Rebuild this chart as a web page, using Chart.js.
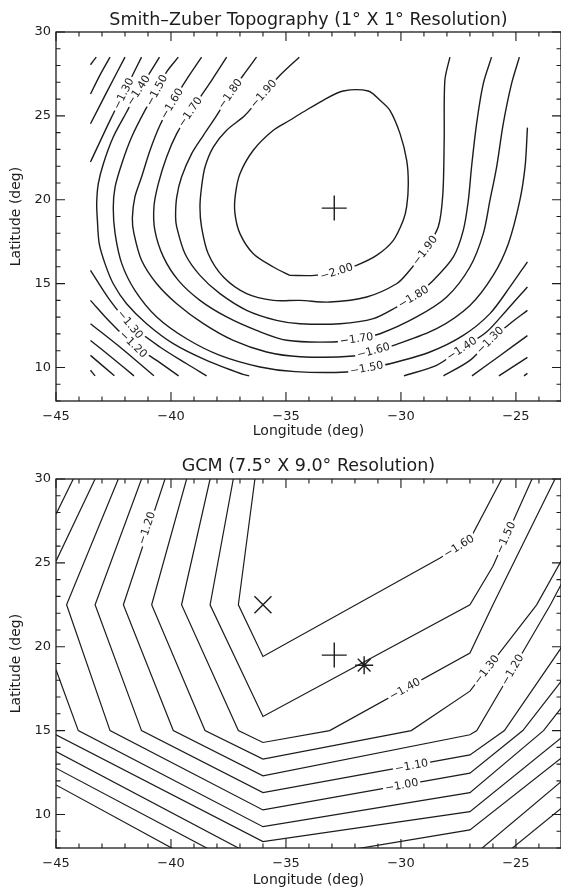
<!DOCTYPE html>
<html>
<head>
<meta charset="utf-8">
<script src="https://cdn.jsdelivr.net/npm/chart.js@4.4.1/dist/chart.umd.min.js"></script>
<style>
  html, body { margin: 0; padding: 0; background: #fff; }
  canvas { display: block; }
</style>
</head>
<body>
<canvas id="szChart" width="561" height="446"></canvas>
<canvas id="gcmChart" width="561" height="446"></canvas>
<script>
// axis ticks shared by both panels
const lonTicks = [-45, -40, -35, -30, -25];
const latTicks = [10, 15, 20, 25, 30];

// Smith-Zuber 1x1 deg topography, contour pieces: [level (km), [[lon, lat], ...]]
const szContours = [
  [-1.00, [[-43.5, 28.05], [-43.25, 28.5]]],
  [-1.10, [[-43.5, 26.3], [-43.1, 27.4], [-42.65, 28.5]]],
  [-1.20, [[-43.5, 24.53], [-42.8, 26.4], [-42.0, 28.5]]],
  [-1.30, [[-43.5, 22.25], [-42.65, 24.73], [-41.71, 27.32], [-41.28, 28.5]]],
  [-1.40, [[-40.5, 28.5], [-40.99, 27.42], [-41.42, 26.52], [-41.93, 25.23], [-42.51, 23.74], [-42.94, 22.15],
           [-43.16, 20.96], [-43.23, 19.8], [-43.2, 18.77], [-43.12, 17.38], [-42.87, 16.19], [-42.51, 14.99],
           [-41.93, 13.8], [-41.06, 12.61], [-39.9, 11.42], [-38.45, 10.42], [-36.9, 9.6], [-36.6, 9.5]]],
  [-1.50, [[-39.68, 28.5], [-40.19, 27.62], [-40.62, 26.52], [-41.13, 25.33], [-41.71, 23.74], [-42.14, 22.15],
           [-42.43, 20.76], [-42.51, 19.5], [-42.43, 17.98], [-42.14, 16.19], [-41.57, 14.6], [-40.62, 13.01],
           [-39.32, 11.71], [-37.87, 10.72], [-36.13, 10.03], [-34.6, 9.75], [-32.36, 9.73], [-31.49, 9.96],
           [-30.48, 10.22], [-28.74, 10.92], [-27.29, 11.91], [-26.13, 13.21], [-25.26, 14.8], [-24.5, 16.3]]],
  [-1.60, [[-38.67, 28.5], [-39.25, 27.32], [-39.97, 25.73], [-40.48, 24.44], [-40.91, 22.95], [-41.28, 21.35],
           [-41.57, 20.16], [-41.68, 18.9], [-41.61, 17.98], [-41.28, 16.39], [-40.62, 14.99], [-39.75, 13.8],
           [-38.59, 12.61], [-37.29, 11.61], [-35.84, 10.92], [-34.39, 10.64], [-32.07, 10.68], [-31.2, 11.0],
           [-30.19, 11.38], [-28.45, 12.31], [-27.0, 13.7], [-25.99, 15.49], [-25.33, 17.38], [-24.83, 19.96],
           [-24.6, 22.0], [-24.5, 24.3]]],
  [-1.70, [[-37.58, 28.5], [-38.23, 27.12], [-39.17, 25.23], [-39.75, 23.94], [-40.19, 22.55], [-40.55, 20.96],
           [-40.74, 19.6], [-40.7, 18.17], [-40.33, 16.59], [-39.68, 15.19], [-38.74, 14.0], [-37.58, 13.01],
           [-36.28, 12.21], [-34.97, 11.62], [-32.94, 11.52], [-31.93, 11.71], [-30.91, 12.01], [-29.32, 13.01],
           [-28.01, 14.2], [-27.0, 15.99], [-26.42, 17.98], [-26.13, 19.96], [-25.84, 21.95], [-25.55, 24.54],
           [-25.19, 26.92], [-24.85, 28.5]]],
  [-1.80, [[-36.28, 28.5], [-36.86, 27.42], [-37.43, 26.32], [-38.01, 25.03], [-38.59, 23.84], [-39.1, 22.75],
           [-39.54, 21.35], [-39.75, 20.16], [-39.8, 19.0], [-39.75, 18.37], [-39.39, 16.78], [-38.74, 15.49],
           [-37.87, 14.4], [-36.71, 13.41], [-35.41, 12.81], [-34.39, 12.61], [-32.65, 12.61], [-31.2, 12.91],
           [-30.19, 13.6], [-29.46, 14.2], [-28.6, 15.19], [-27.72, 16.59], [-27.29, 18.17], [-27.07, 19.96],
           [-26.93, 21.95], [-26.71, 24.54], [-26.42, 26.92], [-26.06, 28.5]]],
  [-1.90, [[-34.42, 28.5], [-35.26, 27.42], [-35.98, 26.32], [-36.78, 25.03], [-37.58, 24.14], [-38.16, 23.14],
           [-38.52, 21.95], [-38.67, 20.76], [-38.74, 19.57], [-38.67, 18.37], [-38.38, 16.78], [-37.72, 15.39],
           [-36.71, 14.4], [-35.55, 14.0], [-34.39, 14.0], [-33.09, 13.9], [-31.49, 14.2], [-30.19, 14.99],
           [-29.68, 15.69], [-28.96, 16.98], [-28.38, 18.37], [-28.18, 20.3], [-28.12, 23.54],
           [-28.09, 27.12], [-27.87, 28.5]]],
  [-2.00, [[-34.83, 15.49], [-35.55, 15.99], [-36.42, 16.78], [-37.0, 17.98], [-37.22, 19.2], [-37.2, 20.3],
           [-37.0, 21.55], [-36.42, 22.95], [-35.55, 24.14], [-34.83, 24.74], [-34.25, 25.23], [-33.38, 25.93],
           [-32.51, 26.48], [-31.42, 26.48], [-30.91, 25.93], [-30.48, 25.33], [-30.04, 23.94], [-29.75, 22.35],
           [-29.68, 20.96], [-29.75, 19.6], [-29.9, 18.77], [-30.33, 17.58], [-31.06, 16.68], [-31.93, 16.09],
           [-32.8, 15.72], [-33.74, 15.49], [-34.83, 15.49]]],
  // lower-left corner
  [-1.30, [[-43.5, 15.79], [-42.65, 14.0], [-41.78, 12.57], [-40.48, 11.22], [-39.32, 10.22], [-38.45, 9.5]]],
  [-1.20, [[-43.5, 14.0], [-42.65, 12.71], [-41.64, 11.38], [-40.62, 10.42], [-39.67, 9.5]]],
  [-1.10, [[-43.5, 12.61], [-42.22, 11.22], [-40.74, 9.5]]],
  [-1.00, [[-43.5, 11.61], [-42.51, 10.52], [-41.61, 9.5]]],
  [-0.90, [[-43.5, 10.72], [-42.46, 9.5]]],
  [-0.80, [[-43.5, 9.83], [-43.3, 9.5]]],
  // lower-right corner
  [-1.40, [[-29.87, 9.5], [-28.45, 10.13], [-27.36, 11.12], [-26.28, 12.11], [-25.41, 13.4], [-24.5, 14.8]]],
  [-1.30, [[-28.15, 9.5], [-27.0, 10.42], [-26.13, 11.62], [-25.26, 12.61], [-24.5, 13.4]]],
  [-1.20, [[-26.91, 9.5], [-25.7, 10.7], [-24.5, 11.9]]],
  [-1.10, [[-25.74, 9.5], [-24.5, 10.6]]],
  [-1.00, [[-24.65, 9.5], [-24.5, 9.65]]]
];
// in-line labels: [level, lon, lat]
const szLabels = [
  [-1.30, -42.07, 26.32], [-1.40, -41.42, 26.52], [-1.50, -40.62, 26.52], [-1.60, -39.97, 25.73],
  [-1.70, -39.17, 25.23], [-1.80, -37.43, 26.32], [-1.90, -35.98, 26.32],
  [-1.30, -41.78, 12.57], [-1.20, -41.64, 11.38],
  [-2.00, -32.8, 15.72], [-1.90, -28.96, 16.98], [-1.80, -29.46, 14.2], [-1.70, -31.93, 11.71],
  [-1.60, -31.2, 11.0], [-1.50, -31.49, 9.96], [-1.40, -27.36, 11.12], [-1.30, -26.13, 11.62]
];
// symbols: [point style, lon, lat]
const szMarks = [['cross', -32.9, 19.5]];

// GCM 7.5 x 9.0 deg grid, contour pieces
const gcmContours = [
  [-0.80, [[-44.25, 30], [-45, 27.9]]],
  [-0.90, [[-43.3, 30], [-45, 25.1]]],
  [-0.90, [[-45, 18.63], [-44.03, 15.0], [-36, 9.27], [-27, 11.3], [-23.8, 15.0], [-23, 16.4]]],
  [-1.00, [[-42.29, 30], [-44.54, 22.5], [-42.65, 15.0], [-36, 10.27], [-27, 12.46], [-24.7, 15.0], [-23, 18.0]]],
  [-1.10, [[-41.28, 30], [-43.3, 22.5], [-41.28, 15.0], [-36, 11.3], [-27, 13.55], [-25.5, 15.0], [-23, 20.0]]],
  [-1.20, [[-40.26, 30], [-42.07, 22.5], [-39.9, 15.0], [-36, 12.3], [-27, 14.75], [-26.7, 15.0], [-25.15, 18.63],
           [-23.5, 22.5], [-23, 23.8]]],
  [-1.30, [[-39.32, 30], [-40.84, 22.5], [-38.52, 15.0], [-36, 13.3], [-29.55, 15.0], [-27, 17.35], [-24.1, 22.5],
           [-23, 25.2]]],
  [-1.40, [[-38.3, 30], [-39.54, 22.5], [-37.07, 15.0], [-36, 14.29], [-33.1, 15.0], [-27, 19.62], [-26, 22.5],
           [-23.3, 30]]],
  [-1.50, [[-37.29, 30], [-38.3, 22.5], [-36, 15.84], [-27, 22.5], [-26.0, 24.8], [-24.3, 30]]],
  [-1.60, [[-36.35, 30], [-37.07, 22.5], [-36, 19.42], [-28.3, 25.29], [-27, 26.4], [-25.62, 30]]],
  [-0.80, [[-45, 14.75], [-36, 8.38], [-27, 10.17], [-23, 14.6]]],
  [-0.70, [[-45, 13.75], [-36.38, 7.5]]],
  [-0.70, [[-33.9, 7.5], [-27, 9.08], [-23, 13.4]]],
  [-0.60, [[-45, 12.76], [-37.76, 7.5]]],
  [-0.60, [[-26.9, 7.5], [-23, 12.0]]],
  [-0.50, [[-45, 11.76], [-39.3, 7.5]]],
  [-0.50, [[-25.6, 7.5], [-23, 10.4]]]
];
const gcmLabels = [
  [-1.20, -41.06, 27.08], [-1.60, -27.48, 25.99], [-1.50, -25.45, 26.5], [-1.40, -29.83, 17.48],
  [-1.30, -26.28, 18.63], [-1.20, -25.15, 18.63], [-1.10, -29.54, 12.9], [-1.00, -29.97, 11.74]
];
const gcmMarks = [['crossRot', -36.0, 22.5], ['cross', -32.9, 19.5], ['star', -31.6, 18.9]];

const FONT = '"DejaVu Sans", "Liberation Sans", sans-serif';
const INK = '#1c1c1c';

const signed = v => (v < 0 ? '\u2212' + Math.abs(v) : String(v));
const levelText = v => '\u2212' + Math.abs(v).toFixed(2);

function segDist(px, py, ax, ay, bx, by) {
  const dx = bx - ax, dy = by - ay;
  const len2 = dx * dx + dy * dy || 1;
  let t = ((px - ax) * dx + (py - ay) * dy) / len2;
  t = Math.max(0, Math.min(1, t));
  return Math.hypot(px - ax - t * dx, py - ay - t * dy);
}

// labels sit in a white gap along their contour, turned to the local line direction
function contourLabelPlugin(contours, labels) {
  return {
    id: 'contourLabels',
    afterDatasetsDraw(chart) {
      const { ctx, scales: { x, y } } = chart;
      ctx.save();
      ctx.font = '11px ' + FONT;
      ctx.textAlign = 'center';
      ctx.textBaseline = 'middle';
      for (const [level, lon, lat] of labels) {
        const px = x.getPixelForValue(lon), py = y.getPixelForValue(lat);
        let best = Infinity, ang = 0;
        for (const [lv, pts] of contours) {
          if (lv !== level) continue;
          for (let i = 1; i < pts.length; i++) {
            const ax = x.getPixelForValue(pts[i - 1][0]), ay = y.getPixelForValue(pts[i - 1][1]);
            const bx = x.getPixelForValue(pts[i][0]), by = y.getPixelForValue(pts[i][1]);
            const d = segDist(px, py, ax, ay, bx, by);
            if (d < best) { best = d; ang = Math.atan2(by - ay, bx - ax); }
          }
        }
        if (ang > Math.PI / 2) ang -= Math.PI;
        if (ang < -Math.PI / 2) ang += Math.PI;
        const text = levelText(level);
        const w = ctx.measureText(text).width + 4;
        ctx.save();
        ctx.translate(px, py);
        ctx.rotate(ang);
        ctx.fillStyle = '#fff';
        ctx.fillRect(-w / 2, -5.5, w, 11);
        ctx.fillStyle = INK;
        ctx.fillText(text, 0, 0.5);
        ctx.restore();
      }
      ctx.restore();
    }
  };
}

// box frame with inward ticks on all four sides, minor every degree
const frameTicks = {
  id: 'frameTicks',
  afterDraw(chart) {
    const { ctx, chartArea: a, scales: { x, y } } = chart;
    ctx.save();
    ctx.strokeStyle = INK;
    ctx.lineWidth = 1.3;
    ctx.strokeRect(a.left, a.top, a.right - a.left, a.bottom - a.top);
    ctx.lineWidth = 1.1;
    ctx.beginPath();
    for (let v = Math.ceil(x.min); v <= x.max; v++) {
      const p = x.getPixelForValue(v);
      const len = lonTicks.includes(v) ? 9 : 4.5;
      ctx.moveTo(p, a.bottom); ctx.lineTo(p, a.bottom - len);
      ctx.moveTo(p, a.top); ctx.lineTo(p, a.top + len);
    }
    for (let v = Math.ceil(y.min); v <= y.max; v++) {
      const p = y.getPixelForValue(v);
      const len = latTicks.includes(v) ? 9 : 4.5;
      ctx.moveTo(a.left, p); ctx.lineTo(a.left + len, p);
      ctx.moveTo(a.right, p); ctx.lineTo(a.right - len, p);
    }
    ctx.stroke();
    ctx.restore();
  }
};

const markRadius = { cross: 12.5, crossRot: 12, star: 9 };

function buildChart(id, title, contours, labels, marks, cfg) {
  const lines = contours.map(([level, pts]) => ({
    label: levelText(level),
    data: pts.map(([lon, lat]) => ({ x: lon, y: lat })),
    showLine: true,
    pointRadius: 0,
    borderColor: INK,
    borderWidth: cfg.lineWidth,
    tension: cfg.tension,
    fill: false
  }));
  const symbols = marks.map(([style, lon, lat]) => ({
    data: [{ x: lon, y: lat }],
    showLine: false,
    pointStyle: style,
    pointRadius: markRadius[style],
    borderColor: INK,
    borderWidth: 1.4,
    backgroundColor: 'rgba(0,0,0,0)'
  }));

  return new Chart(document.getElementById(id), {
    type: 'scatter',
    data: { datasets: [...lines, ...symbols] },
    options: {
      responsive: false,
      animation: false,
      events: [],
      // big marker symbols must not push the plot box inwards
      layout: { padding: 0, autoPadding: false },
      plugins: {
        legend: { display: false },
        tooltip: { enabled: false },
        title: {
          display: true, text: title, color: INK, fullSize: false,
          font: { family: FONT, size: 17.5, weight: 'normal' },
          padding: cfg.titlePad
        }
      },
      scales: {
        x: {
          type: 'linear', min: -45, max: -23.04,
          afterBuildTicks: s => { s.ticks = lonTicks.map(value => ({ value })); },
          afterFit: s => { s.height = cfg.xBlock; s.paddingLeft = 0; s.paddingRight = 0; },
          grid: { display: false, drawTicks: false },
          border: { display: false },
          ticks: { color: INK, padding: 8, maxRotation: 0, font: { family: FONT, size: 13 }, callback: signed },
          title: {
            display: true, text: 'Longitude (deg)', color: INK,
            font: { family: FONT, size: 14 }, padding: { top: 0, bottom: cfg.xTitlePad }
          }
        },
        y: {
          type: 'linear', min: 8, max: 30,
          afterBuildTicks: s => { s.ticks = latTicks.map(value => ({ value })); },
          afterFit: s => { s.width = 56; s.paddingTop = 0; s.paddingBottom = 0; },
          grid: { display: false, drawTicks: false },
          border: { display: false },
          ticks: { color: INK, padding: 5, font: { family: FONT, size: 13 }, callback: signed },
          title: {
            display: true, text: 'Latitude (deg)', color: INK,
            font: { family: FONT, size: 14 }, padding: { top: 8, bottom: 0 }
          }
        }
      }
    },
    plugins: [contourLabelPlugin(contours, labels), frameTicks]
  });
}

buildChart('szChart', 'Smith\u2013Zuber Topography (1\u00b0 X 1\u00b0 Resolution)', szContours, szLabels, szMarks,
  { lineWidth: 1.4, tension: 0.3, titlePad: { top: 9.6, bottom: 1.4 }, xBlock: 45, xTitlePad: 6 });
buildChart('gcmChart', 'GCM (7.5\u00b0 X 9.0\u00b0 Resolution)', gcmContours, gcmLabels, gcmMarks,
  { lineWidth: 1.2, tension: 0, titlePad: { top: 10.4, bottom: 1.6 }, xBlock: 44, xTitlePad: 3 });
</script>
</body>
</html>
